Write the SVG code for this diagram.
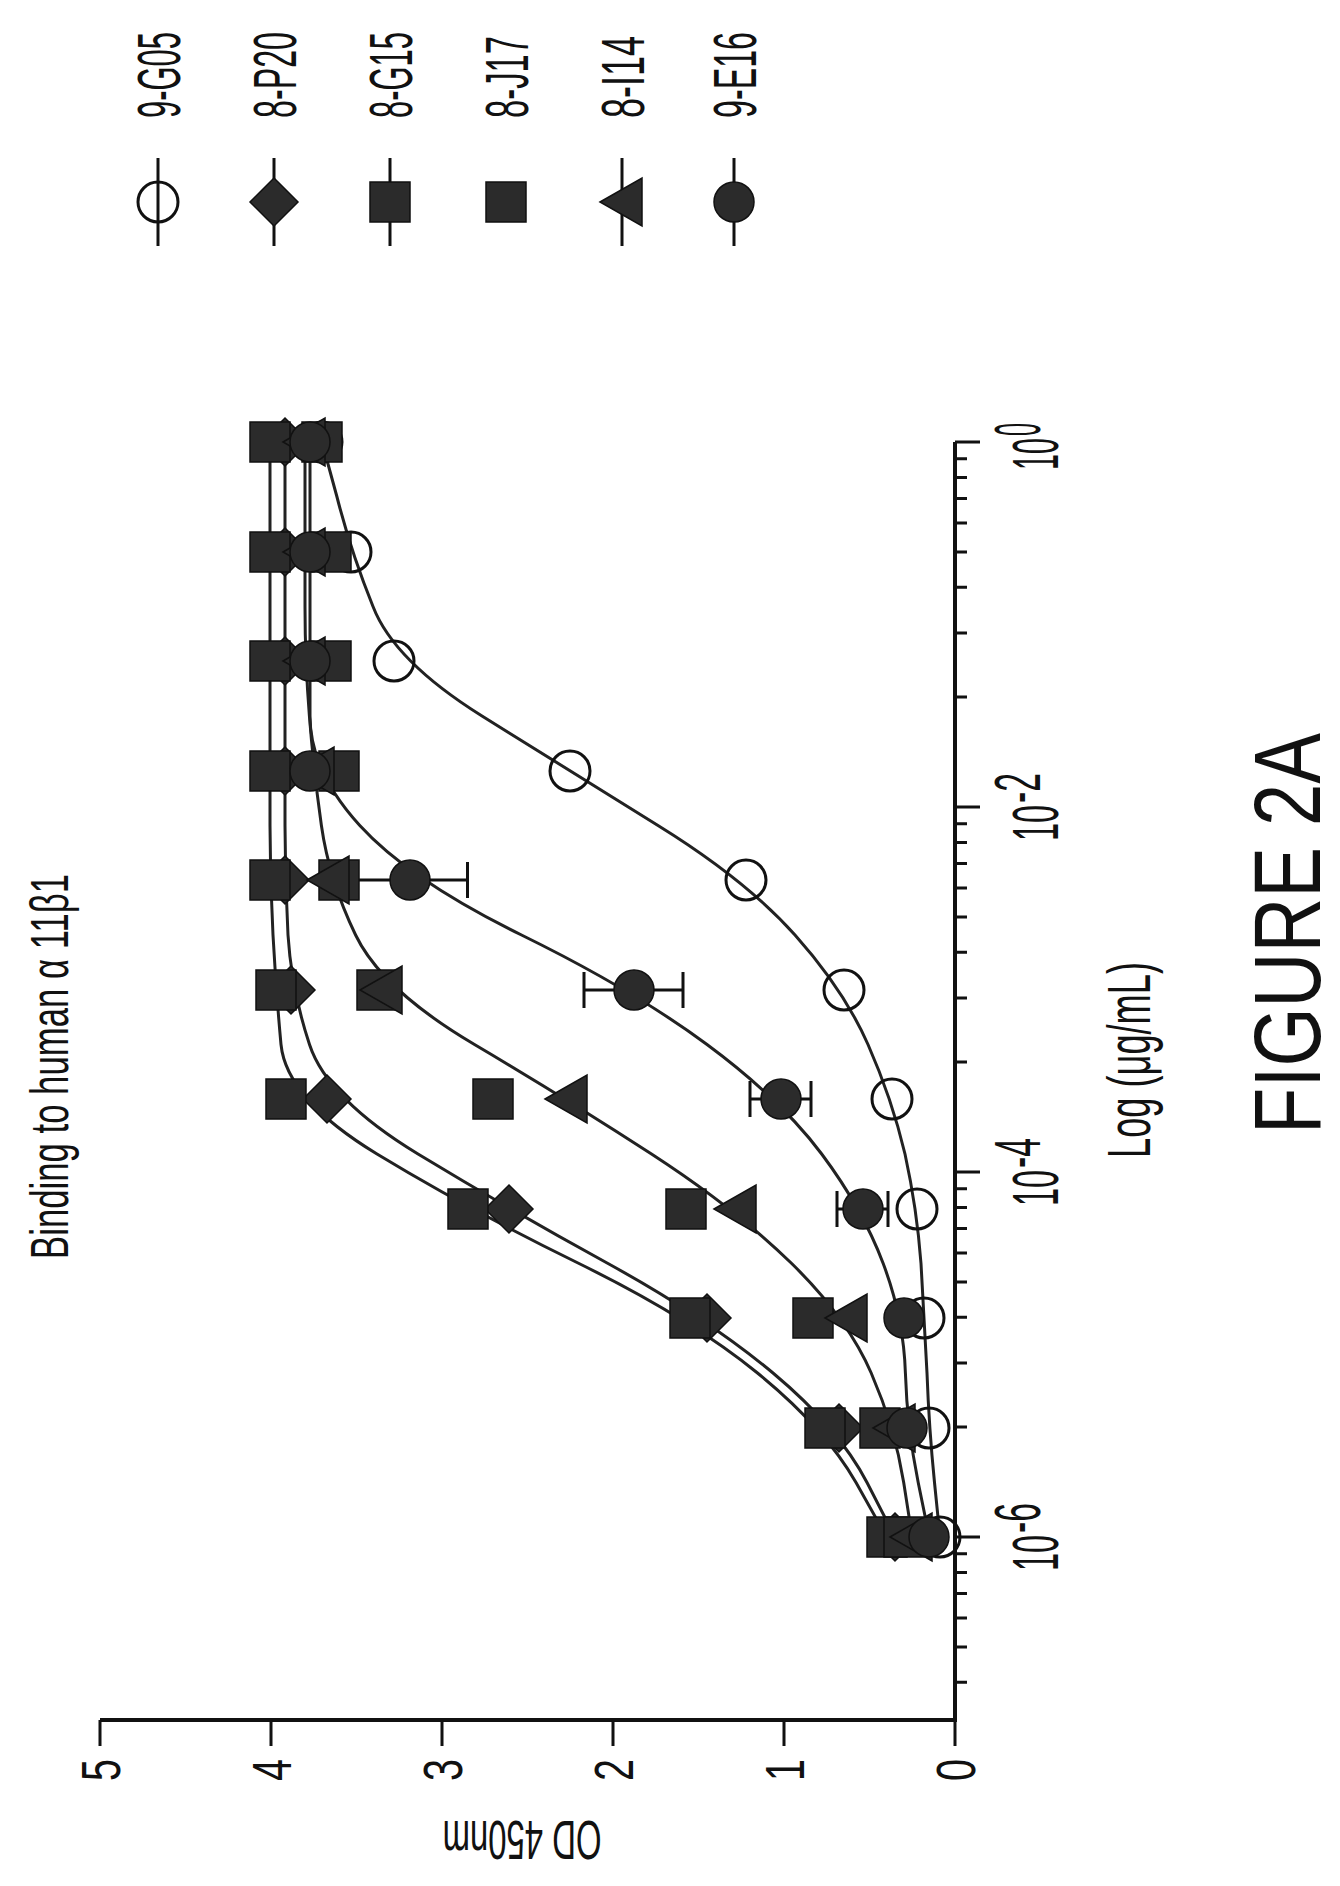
<svg xmlns="http://www.w3.org/2000/svg" xmlns:xlink="http://www.w3.org/1999/xlink" width="1340" height="1886" viewBox="0 0 1340 1886">
<style>
text{font-family:"Liberation Sans",Arial,sans-serif;fill:#111}
.ax{stroke:#111;stroke-width:4;fill:none}
.tk{stroke:#111;stroke-width:3;fill:none}
.cv{stroke:#222;stroke-width:3;fill:none}
.mk{fill:#2b2b2b;stroke:#111;stroke-width:1.5}
.op{fill:none;stroke:#111;stroke-width:3}
.eb{stroke:#111;stroke-width:3;fill:none}
</style>
<defs>
<circle id="mo" r="20" class="op"/>
<circle id="mc" r="20" class="mk"/>
<rect id="ms" x="-20" y="-20" width="40" height="40" class="mk"/>
<path id="md" d="M0,-24 L24,0 0,24 -24,0Z" class="mk"/>
<path id="mt" d="M-22,0 L20,-24 L20,24Z" class="mk"/>
</defs>
<rect width="1340" height="1886" fill="#fff"/>

<g id="title"><text transform="translate(68,1259) rotate(-90)" font-size="53" textLength="385" lengthAdjust="spacingAndGlyphs">Binding to human α 11β1</text></g>

<g id="legend">
<g id="leg-9G05"><line x1="158" y1="158" x2="158" y2="246" class="tk"/><use xlink:href="#mo" x="158" y="202"/><text transform="translate(180,118) rotate(-90)" font-size="62" textLength="86" lengthAdjust="spacingAndGlyphs">9-G05</text></g>
<g id="leg-8P20"><line x1="274" y1="158" x2="274" y2="246" class="tk"/><use xlink:href="#md" x="274" y="202"/><text transform="translate(296,118) rotate(-90)" font-size="62" textLength="86" lengthAdjust="spacingAndGlyphs">8-P20</text></g>
<g id="leg-8G15"><line x1="390" y1="158" x2="390" y2="246" class="tk"/><use xlink:href="#ms" x="390" y="202"/><text transform="translate(412,118) rotate(-90)" font-size="62" textLength="86" lengthAdjust="spacingAndGlyphs">8-G15</text></g>
<g id="leg-8J17"><use xlink:href="#ms" x="506" y="202"/><text transform="translate(528,118) rotate(-90)" font-size="62" textLength="82" lengthAdjust="spacingAndGlyphs">8-J17</text></g>
<g id="leg-8I14"><line x1="622" y1="158" x2="622" y2="246" class="tk"/><use xlink:href="#mt" x="622" y="202"/><text transform="translate(644,118) rotate(-90)" font-size="62" textLength="82" lengthAdjust="spacingAndGlyphs">8-I14</text></g>
<g id="leg-9E16"><line x1="734" y1="158" x2="734" y2="246" class="tk"/><use xlink:href="#mc" x="734" y="202"/><text transform="translate(756,118) rotate(-90)" font-size="62" textLength="86" lengthAdjust="spacingAndGlyphs">9-E16</text></g>
</g>

<g id="axes">
<path class="ax" d="M955,442 V1720 H100"/>
<path class="tk" d="M955,442 h25 M955,807 h25 M955,1172 h25 M955,1537 h25"/>
<path class="tk" d="M955,697.1h12 M955,632.9h12 M955,587.3h12 M955,551.9h12 M955,523h12 M955,498.5h12 M955,477.4h12 M955,458.7h12
M955,1062.1h12 M955,997.9h12 M955,952.3h12 M955,916.9h12 M955,888h12 M955,863.5h12 M955,842.4h12 M955,823.7h12
M955,1427.1h12 M955,1362.9h12 M955,1317.3h12 M955,1281.9h12 M955,1253h12 M955,1228.5h12 M955,1207.4h12 M955,1188.7h12
M955,1682.3h12 M955,1646.9h12 M955,1618h12 M955,1593.5h12 M955,1572.4h12 M955,1553.7h12"/>
<path class="tk" d="M955,1720 v26 M784,1720 v26 M613,1720 v26 M442,1720 v26 M271,1720 v26 M100,1720 v26"/>
<g font-size="55">
<text transform="translate(975,1770) rotate(-90)" text-anchor="middle" textLength="22" lengthAdjust="spacingAndGlyphs">0</text>
<text transform="translate(804,1770) rotate(-90)" text-anchor="middle" textLength="22" lengthAdjust="spacingAndGlyphs">1</text>
<text transform="translate(633,1770) rotate(-90)" text-anchor="middle" textLength="22" lengthAdjust="spacingAndGlyphs">2</text>
<text transform="translate(462,1770) rotate(-90)" text-anchor="middle" textLength="22" lengthAdjust="spacingAndGlyphs">3</text>
<text transform="translate(291,1770) rotate(-90)" text-anchor="middle" textLength="22" lengthAdjust="spacingAndGlyphs">4</text>
<text transform="translate(120,1770) rotate(-90)" text-anchor="middle" textLength="22" lengthAdjust="spacingAndGlyphs">5</text>
</g>
<text transform="translate(522,1821) rotate(180)" text-anchor="middle" font-size="55" textLength="159" lengthAdjust="spacingAndGlyphs">OD 450nm</text>
<g font-size="64">
<text transform="translate(1058,470) rotate(-90)" textLength="32" lengthAdjust="spacingAndGlyphs">10</text>
<text transform="translate(1040,436) rotate(-90)" textLength="13" lengthAdjust="spacingAndGlyphs">0</text>
<text transform="translate(1058,841) rotate(-90)" textLength="36" lengthAdjust="spacingAndGlyphs">10</text>
<text transform="translate(1040,803) rotate(-90)" textLength="30" lengthAdjust="spacingAndGlyphs">-2</text>
<text transform="translate(1058,1206) rotate(-90)" textLength="36" lengthAdjust="spacingAndGlyphs">10</text>
<text transform="translate(1040,1168) rotate(-90)" textLength="30" lengthAdjust="spacingAndGlyphs">-4</text>
<text transform="translate(1058,1571) rotate(-90)" textLength="36" lengthAdjust="spacingAndGlyphs">10</text>
<text transform="translate(1040,1533) rotate(-90)" textLength="30" lengthAdjust="spacingAndGlyphs">-6</text>
</g>
<text transform="translate(1150,1158) rotate(-90)" font-size="62" textLength="196" lengthAdjust="spacingAndGlyphs">Log (μg/mL)</text>
</g>

<g id="connectors">
<path class="cv" d="M322,442 L337,497 Q351,552 373,606.5 Q394,661 482,716 Q570,771 658,825.5 Q746,880 795,935 Q844,990 868,1044.5 Q892,1099 905,1154 Q917,1209 921,1263.5 Q924,1318 927,1373 Q929,1428 934.5,1482.5 L940,1537"/>
<path class="cv" d="M285,442 L285,825.5 Q285,880 288,935 Q291.5,990 309.5,1044.5 Q327.4,1099 418,1154 Q508.7,1209 608,1263.5 Q707,1318 773,1373 Q838.7,1428 867,1482.5 L895,1537"/>
<path class="cv" d="M270,442 L270,825.5 Q270,880 273,935 Q276,990 281,1044.5 Q286.4,1099 377,1154 Q467.6,1209 579,1263.5 Q690,1318 757.5,1373 Q825,1428 856,1482.5 L886.6,1537"/>
<path class="cv" d="M305,442 L305,606.5 Q305,661 309.4,716 Q313.7,771 321.4,825.5 Q329.1,880 355.6,935 Q382.1,990 474.5,1044.5 Q566.8,1099 651.5,1154 Q736.1,1209 791.7,1263.5 Q847.3,1318 871.2,1373 Q895.1,1428 903.7,1482.5 L912.2,1537"/>
<path class="cv" d="M310,442 L310,716 Q310,771 359.8,825.5 Q409.5,880 521.5,935 Q633.5,990 707,1044.5 Q780.6,1099 821.7,1154 Q862.7,1209 883.2,1263.5 Q903.7,1318 905.4,1373 Q907.1,1428 918.2,1482.5 L929.3,1537"/>
<path class="eb" d="M351.5,880 H467.5 M467.5,862 v36 M584,990 H683 M584,972 v36 M683,972 v36 M750,1099 H811 M750,1081 v36 M811,1081 v36 M837,1209 H888 M837,1191 v36 M888,1191 v36"/>
</g>

<g id="series-9G05">
<use xlink:href="#mo" x="322" y="442"/><use xlink:href="#mo" x="351" y="552"/><use xlink:href="#mo" x="394" y="661"/><use xlink:href="#mo" x="570" y="771"/><use xlink:href="#mo" x="746" y="880"/><use xlink:href="#mo" x="844" y="990"/><use xlink:href="#mo" x="892" y="1099"/><use xlink:href="#mo" x="917" y="1209"/><use xlink:href="#mo" x="924" y="1318"/><use xlink:href="#mo" x="929" y="1428"/><use xlink:href="#mo" x="940" y="1537"/>
</g>
<g id="series-8P20">
<use xlink:href="#md" x="285" y="442"/><use xlink:href="#md" x="285" y="552"/><use xlink:href="#md" x="285" y="661"/><use xlink:href="#md" x="285" y="771"/><use xlink:href="#md" x="285" y="880"/><use xlink:href="#md" x="291" y="990"/><use xlink:href="#md" x="327" y="1099"/><use xlink:href="#md" x="509" y="1209"/><use xlink:href="#md" x="707" y="1318"/><use xlink:href="#md" x="839" y="1428"/><use xlink:href="#md" x="895" y="1537"/>
</g>
<g id="series-8G15">
<use xlink:href="#ms" x="270" y="442"/><use xlink:href="#ms" x="270" y="552"/><use xlink:href="#ms" x="270" y="661"/><use xlink:href="#ms" x="270" y="771"/><use xlink:href="#ms" x="270" y="880"/><use xlink:href="#ms" x="276" y="990"/><use xlink:href="#ms" x="286" y="1099"/><use xlink:href="#ms" x="468" y="1209"/><use xlink:href="#ms" x="690" y="1318"/><use xlink:href="#ms" x="825" y="1428"/><use xlink:href="#ms" x="887" y="1537"/>
</g>
<g id="series-8J17">
<use xlink:href="#ms" x="322" y="442"/><use xlink:href="#ms" x="331" y="552"/><use xlink:href="#ms" x="331" y="661"/><use xlink:href="#ms" x="339" y="771"/><use xlink:href="#ms" x="339" y="880"/><use xlink:href="#ms" x="377" y="990"/><use xlink:href="#ms" x="493" y="1099"/><use xlink:href="#ms" x="686" y="1209"/><use xlink:href="#ms" x="813" y="1318"/><use xlink:href="#ms" x="880" y="1428"/><use xlink:href="#ms" x="904" y="1537"/>
</g>
<g id="series-8I14">
<use xlink:href="#mt" x="305" y="442"/><use xlink:href="#mt" x="305" y="552"/><use xlink:href="#mt" x="305" y="661"/><use xlink:href="#mt" x="314" y="771"/><use xlink:href="#mt" x="329" y="880"/><use xlink:href="#mt" x="382" y="990"/><use xlink:href="#mt" x="567" y="1099"/><use xlink:href="#mt" x="736" y="1209"/><use xlink:href="#mt" x="847" y="1318"/><use xlink:href="#mt" x="895" y="1428"/><use xlink:href="#mt" x="912" y="1537"/>
</g>
<g id="series-9E16">
<use xlink:href="#mc" x="310" y="442"/><use xlink:href="#mc" x="310" y="552"/><use xlink:href="#mc" x="310" y="661"/><use xlink:href="#mc" x="310" y="771"/><use xlink:href="#mc" x="410" y="880"/><use xlink:href="#mc" x="634" y="990"/><use xlink:href="#mc" x="781" y="1099"/><use xlink:href="#mc" x="863" y="1209"/><use xlink:href="#mc" x="904" y="1318"/><use xlink:href="#mc" x="907" y="1428"/><use xlink:href="#mc" x="929" y="1537"/>
</g>

<g id="caption"><text transform="translate(1320,1134) rotate(-90)" font-size="95" textLength="401" lengthAdjust="spacingAndGlyphs">FIGURE 2A</text></g>
</svg>
